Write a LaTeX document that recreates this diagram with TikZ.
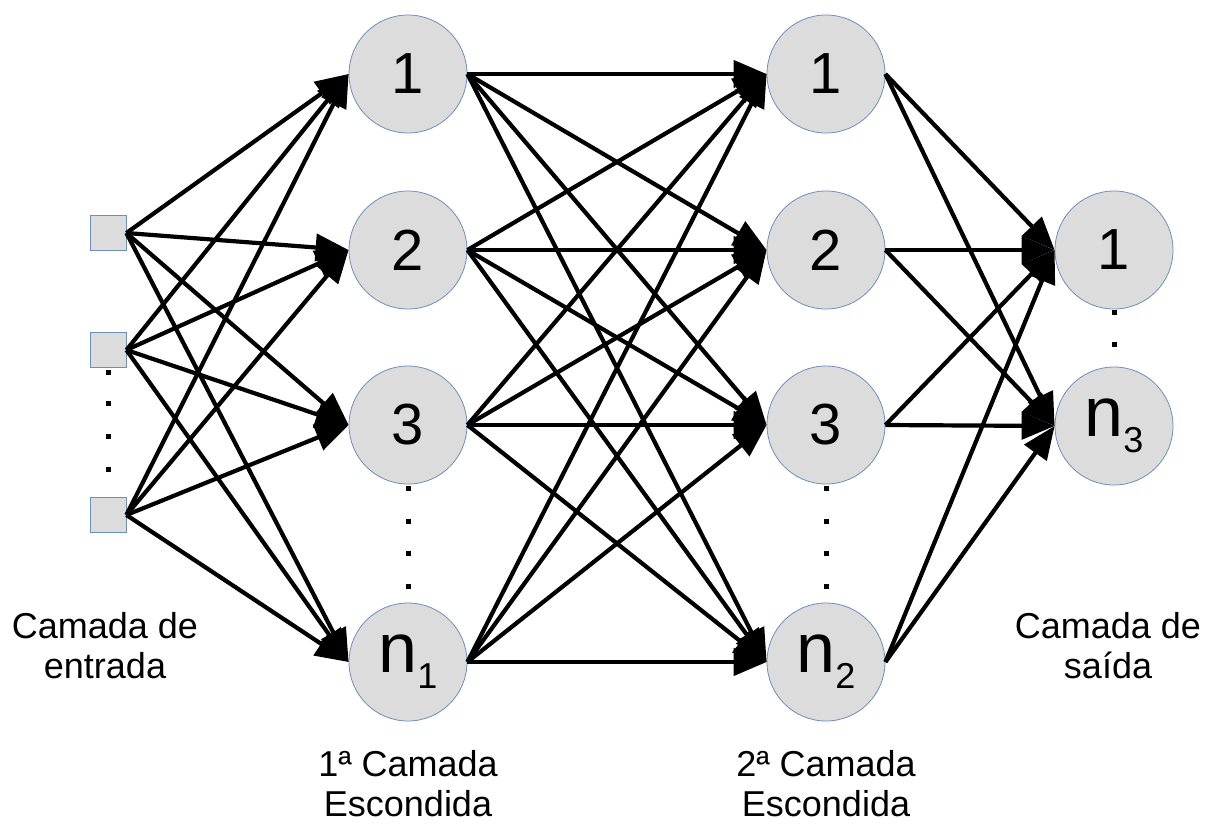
\documentclass[tikz,border=0pt]{standalone}
\usepackage{fontspec}
\setmainfont{Liberation Sans}
\usetikzlibrary{arrows.meta}
\definecolor{nodefill}{HTML}{DCDCDC}
\definecolor{nodeline}{HTML}{6D8EBF}
\newcommand{\nsub}[1]{{\fontsize{70}{70}\selectfont n}\raisebox{-16pt}{\fontsize{36}{36}\selectfont #1}}
\begin{document}
\begin{tikzpicture}[x=1pt,y=-1pt,
  neuron/.style={circle, minimum size=118pt, inner sep=0pt, fill=nodefill, draw=nodeline, line width=0.8pt, font=\fontsize{58}{58}\selectfont},
  inbox/.style={rectangle, minimum width=36pt, minimum height=35pt, inner sep=0pt, fill=nodefill, draw=nodeline, line width=0.8pt},
  dotmark/.style={rectangle, fill=black, minimum size=5pt, inner sep=0pt},
  conn/.style={line width=4.2pt, -{Triangle[length=33pt,width=27pt]}},
  lbl/.style={align=center, font=\fontsize{36}{40}\selectfont}]
\useasboundingbox (0,0) rectangle (1206,825);

% dots
\foreach \y [count=\k] in {372,403,436,469} \node[dotmark] (di\k) at (108,\y) {};
\foreach \y [count=\k] in {488,521,553,586} \node[dotmark] (dh\k) at (408,\y) {};
\foreach \y [count=\k] in {488,521,553,586} \node[dotmark] (dg\k) at (826,\y) {};
\foreach \y [count=\k] in {312,344} \node[dotmark] (do\k) at (1114,\y) {};

% input
\node[inbox] (i1) at (108,233) {};
\node[inbox] (i2) at (108,350) {};
\node[inbox] (i3) at (108,515) {};

% hidden 1
\node[neuron] (h1) at (408,74) {1};
\node[neuron] (h2) at (408,250) {2};
\node[neuron] (h3) at (408,425) {3};
\node[neuron] (h4) at (408,662) {\nsub{1}};

% hidden 2
\node[neuron] (g1) at (826,74) {1};
\node[neuron] (g2) at (826,250) {2};
\node[neuron] (g3) at (826,425) {3};
\node[neuron] (g4) at (826,662) {\nsub{2}};

% output
\node[neuron] (o1) at (1114,250) {1};
\node[neuron] (o2) at (1114,426) {\nsub{3}};

% connections
\foreach \a in {i1,i2,i3} \foreach \b in {h1,h2,h3,h4} \draw[conn] (\a.east) -- (\b.west);
\foreach \a in {h1,h2,h3,h4} \foreach \b in {g1,g2,g3,g4} \draw[conn] (\a.east) -- (\b.west);
\foreach \a in {g1,g2,g3,g4} \foreach \b in {o1,o2} \draw[conn] (\a.east) -- (\b.west);

% labels
\node[lbl] (lin) at (105,646) {Camada de\\entrada};
\node[lbl] (lh1) at (408,784) {1ª Camada\\Escondida};
\node[lbl] (lh2) at (826,784) {2ª Camada\\Escondida};
\node[lbl] (lout) at (1108,646) {Camada de\\saída};
\end{tikzpicture}
\end{document}
